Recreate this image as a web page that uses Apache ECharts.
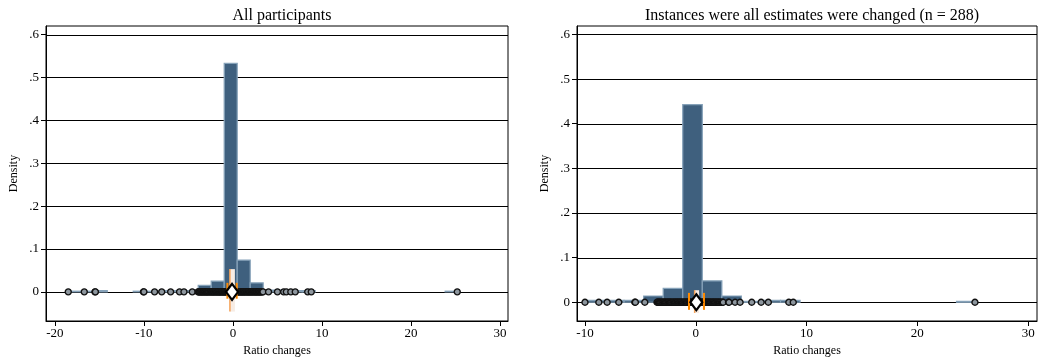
<!DOCTYPE html>
<html>
<head>
<meta charset="utf-8">
<script src="https://cdn.jsdelivr.net/npm/echarts@6/dist/echarts.min.js"></script>
<style>
  html, body { margin: 0; padding: 0; background: #fff; }
  #chart { width: 1044px; height: 362px; }
</style>
</head>
<body>
<div id="chart"></div>
<script>
// tick labels
const xTicksLeft = [-20, -10, 0, 10, 20, 30]
const xTicksRight = [-10, 0, 10, 20, 30]
const yTicks = [0, 0.1, 0.2, 0.3, 0.4, 0.5, 0.6]

// histogram: bin edges + density, all participants
const leftEdges = [-18.5, -17.04, -15.58, -14.12, -12.66, -11.2, -9.74, -8.28, -6.82, -5.36, -3.9,
  -2.44, -0.98, 0.48, 1.94, 3.4, 4.86, 6.32, 7.78, 9.24, 10.7, 12.16, 13.62, 15.08, 16.54,
  18.0, 19.46, 20.92, 22.38, 23.84, 25.3]
const leftDensity = [0.0015, 0.0015, 0.003, 0, 0, 0.0015, 0.0015, 0.003, 0.003, 0.003, 0.015,
  0.025, 0.533, 0.074, 0.021, 0.004, 0.004, 0.003, 0.003, 0, 0, 0, 0, 0, 0,
  0, 0, 0, 0, 0.0015]

// histogram: instances where all estimates were changed
const rightEdges = [-10, -8.235, -6.47, -4.705, -2.94, -1.175, 0.59, 2.355, 4.12, 5.885, 7.65,
  9.415, 11.18, 12.945, 14.71, 16.475, 18.24, 20.005, 21.77, 23.535, 25.3]
const rightDensity = [0.004, 0.004, 0.004, 0.014, 0.031, 0.443, 0.048, 0.014, 0.002, 0.004, 0.004,
  0, 0, 0, 0, 0, 0, 0, 0, 0.002]

// individual observations (drawn along y = 0)
const leftPoints = [-18.5, -16.7, -15.5, -15.45, -10.05, -10.0, -8.8, -8.0, -7.0, -6.0, -5.5, -4.57,
  -3.92, -3.85, -3.78, -3.7, -3.61, -3.55, -3.5, -3.41, -3.33, -3.27, -3.2, -3.12, -3.04, -2.97,
  -2.91, -2.84, -2.77, -2.7, -2.6, -2.54, -2.48, -2.4, -2.31, -2.26, -2.2, -2.12, -2.05, -1.98,
  -1.9, -1.83, -1.77, -1.7, -1.62, -1.56, -1.5, -1.44, -1.38, -1.3, -1.21, -1.16, -1.1, -1.03,
  -0.96, -0.9, -0.82, -0.76, -0.7, -0.62, -0.55, -0.49, -0.43, -0.36, -0.3, -0.2, -0.1,
  0.1, 0.2, 0.27, 0.33, 0.4, 0.48, 0.55, 0.61, 0.68, 0.75, 0.83, 0.9, 0.95, 1.03, 1.1, 1.17,
  1.24, 1.3, 1.37, 1.45, 1.52, 1.6, 1.66, 1.73, 1.8, 1.86, 1.93, 2.0, 2.08, 2.14, 2.2, 2.28,
  2.36, 2.43, 2.5, 2.57, 2.63, 2.7, 2.78, 2.85, 2.92, 2.98, 3.05, 3.13, 3.2, 3.3, 3.38,
  4.0, 5.0, 5.7, 6.0, 6.5, 7.0, 8.4, 8.8, 25.2]
const rightPoints = [-10.0, -8.75, -8.0, -6.95, -5.5, -5.45, -4.6, -3.5, -3.44, -3.38, -3.3, -3.22,
  -3.14, -3.05, -2.98, -2.9, -2.83, -2.76, -2.68, -2.6, -2.52, -2.45, -2.38, -2.3, -2.24, -2.17,
  -2.08, -2.0, -1.93, -1.86, -1.78, -1.71, -1.64, -1.58, -1.5, -1.42, -1.36, -1.3, -1.22, -1.14,
  -1.07, -1.0, -0.92, -0.85, -0.78, -0.7, -0.63, -0.56, -0.48, -0.4, -0.3, 0.4, 0.45, 0.52, 0.6,
  0.67, 0.74, 0.81, 0.88, 0.95, 1.02, 1.1, 1.17, 1.23, 1.3, 1.38, 1.46, 1.53, 1.6, 1.67, 1.75,
  1.82, 1.9, 1.97, 2.05, 2.12, 2.2, 2.3, 2.4, 2.48, 2.95, 3.0, 3.55, 4.0, 5.05, 5.9, 6.55,
  8.4, 8.8, 25.2]

// box / interval markers around the mean
const leftBox = [[-0.34, 0.22, -0.046, 0.053]]
const leftCaps = [[-0.62, -0.016, 0.021], [0.42, -0.016, 0.021]]
const leftMean = [[-0.1, 0]]
const rightBox = [[-0.1, 0.3, -0.024, 0.027]]
const rightCaps = [[-0.61, -0.017, 0.021], [0.74, -0.017, 0.021]]
const rightMean = [[0.05, 0]]

const serif = 'Liberation Serif'
const barFill = '#3f607e'
const barEdge = '#86a2b9'

const chart = echarts.init(document.getElementById('chart'))

const toBins = (edges, dens) => dens.map((d, i) => [edges[i], edges[i + 1], d])

const renderBar = (params, api) => {
  const h = api.value(2)
  if (!h) return
  const p0 = api.coord([api.value(0), h])
  const p1 = api.coord([api.value(1), 0])
  return {
    type: 'rect',
    shape: { x: p0[0], y: p0[1], width: p1[0] - p0[0], height: p1[1] - p0[1] },
    style: { fill: barFill, stroke: barEdge, lineWidth: 1.2 }
  }
}

const renderGridLine = (params, api) => {
  const y = Math.round(api.coord([0, api.value(1)])[1]) + 0.5
  const cs = params.coordSys
  return {
    type: 'line',
    shape: { x1: cs.x, y1: y, x2: cs.x + cs.width, y2: y },
    style: { stroke: '#000', lineWidth: 1 }
  }
}

const renderBox = (params, api) => {
  const p0 = api.coord([api.value(0), api.value(3)])
  const p1 = api.coord([api.value(1), api.value(2)])
  return {
    type: 'group',
    children: [
      {
        type: 'rect',
        shape: { x: p0[0], y: p0[1], width: p1[0] - p0[0], height: p1[1] - p0[1] },
        style: { fill: '#f7ece4' }
      },
      {
        type: 'line',
        shape: { x1: p0[0], y1: p0[1], x2: p0[0], y2: p1[1] },
        style: { stroke: '#f5a35a', lineWidth: 1.5 }
      }
    ]
  }
}

const renderCap = (params, api) => {
  const p0 = api.coord([api.value(0), api.value(1)])
  const p1 = api.coord([api.value(0), api.value(2)])
  return {
    type: 'line',
    shape: { x1: p0[0], y1: p0[1], x2: p1[0], y2: p1[1] },
    style: { stroke: '#ff8a00', lineWidth: 2 }
  }
}

const yFmt = v => (v === 0 ? '0' : String(Math.round(v * 10) / 10).replace('0.', '.'))

const makeXAxis = (idx, min, max, ticks) => ({
  gridIndex: idx,
  type: 'value',
  min: min,
  max: max,
  axisLine: { show: true, onZero: false, lineStyle: { color: '#000', width: 1 } },
  axisTick: { show: true, length: 5, customValues: ticks, lineStyle: { color: '#000' } },
  axisLabel: { customValues: ticks, color: '#000', fontFamily: serif, fontSize: 13, margin: 6 },
  splitLine: { show: false },
  name: 'Ratio changes',
  nameLocation: 'middle',
  nameGap: 22,
  nameTextStyle: { color: '#000', fontFamily: serif, fontSize: 12 }
})

const makeYAxis = (idx, min, max) => ({
  gridIndex: idx,
  type: 'value',
  min: min,
  max: max,
  axisLine: { show: true, onZero: false, lineStyle: { color: '#000', width: 1 } },
  axisTick: { show: true, length: 5, customValues: yTicks, lineStyle: { color: '#000' } },
  axisLabel: { customValues: yTicks, formatter: yFmt, color: '#000', fontFamily: serif, fontSize: 13, margin: 7 },
  splitLine: { show: false },
  name: 'Density',
  nameLocation: 'middle',
  nameGap: 26,
  nameTextStyle: { color: '#000', fontFamily: serif, fontSize: 12 }
})

const panelSeries = (idx, edges, dens, points, box, caps, mean) => [
  {
    type: 'custom', xAxisIndex: idx, yAxisIndex: idx, z: 1, silent: true,
    renderItem: renderGridLine, data: yTicks.map(v => [0, v]), encode: { x: 0, y: 1 }
  },
  {
    type: 'custom', xAxisIndex: idx, yAxisIndex: idx, z: 2, silent: true,
    renderItem: renderBar, data: toBins(edges, dens), encode: { x: [0, 1], y: 2 }
  },
  {
    type: 'scatter', xAxisIndex: idx, yAxisIndex: idx, z: 3, silent: true,
    symbol: 'circle', symbolSize: 6,
    itemStyle: { color: '#8d969e', borderColor: '#111', borderWidth: 1.4, opacity: 1 },
    data: points.map(x => [x, 0])
  },
  {
    type: 'custom', xAxisIndex: idx, yAxisIndex: idx, z: 4, silent: true,
    renderItem: renderBox, data: box, encode: { x: [0, 1], y: [2, 3] }
  },
  {
    type: 'custom', xAxisIndex: idx, yAxisIndex: idx, z: 5, silent: true,
    renderItem: renderCap, data: caps, encode: { x: 0, y: [1, 2] }
  },
  {
    type: 'scatter', xAxisIndex: idx, yAxisIndex: idx, z: 6, silent: true,
    symbol: 'diamond', symbolSize: [12, 16],
    itemStyle: { color: '#fff', borderColor: '#000', borderWidth: 2.2, opacity: 1 },
    data: mean
  }
]

const option = {
  animation: false,
  backgroundColor: '#fff',
  title: [
    {
      text: 'All participants', left: 277, top: 3, textAlign: 'center',
      textStyle: { fontFamily: serif, fontSize: 16, fontWeight: 'normal', color: '#000' }
    },
    {
      text: 'Instances were all estimates were changed (n = 288)', left: 807, top: 3, textAlign: 'center',
      textStyle: { fontFamily: serif, fontSize: 16, fontWeight: 'normal', color: '#000' }
    }
  ],
  grid: [
    { left: 46, top: 26, width: 462, height: 295, show: true, borderColor: '#000', borderWidth: 1, backgroundColor: '#fff' },
    { left: 577, top: 26, width: 460, height: 295, show: true, borderColor: '#000', borderWidth: 1, backgroundColor: '#fff' }
  ],
  xAxis: [makeXAxis(0, -21, 30.9, xTicksLeft), makeXAxis(1, -10.72, 30.8, xTicksRight)],
  yAxis: [makeYAxis(0, -0.068, 0.62), makeYAxis(1, -0.042, 0.619)],
  series: [
    ...panelSeries(0, leftEdges, leftDensity, leftPoints, leftBox, leftCaps, leftMean),
    ...panelSeries(1, rightEdges, rightDensity, rightPoints, rightBox, rightCaps, rightMean)
  ]
}

chart.setOption(option)
</script>
</body>
</html>
